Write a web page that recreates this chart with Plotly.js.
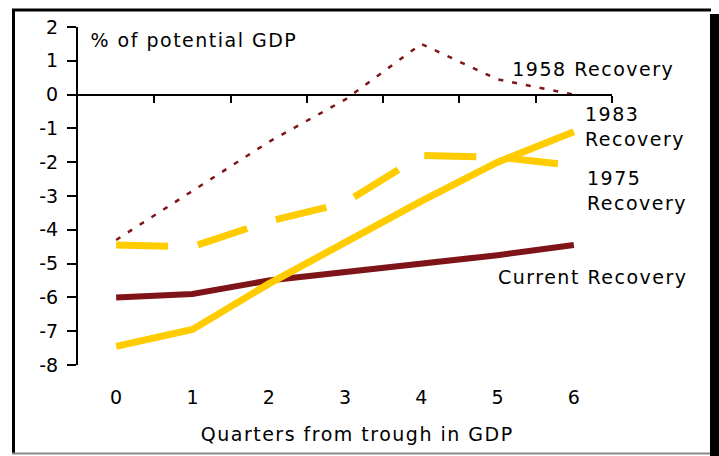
<!DOCTYPE html>
<html>
<head>
<meta charset="utf-8">
<script src="https://cdn.plot.ly/plotly-3.0.1.min.js"></script>
<style>
html,body{margin:0;padding:0;background:#fff;}
#chart{width:719px;height:456px;}
#chart .annotation-text { letter-spacing: 1.5px; }
</style>
</head>
<body>
<div id="chart"></div>
<script>
// Data
var quarters = [0, 1, 2, 3, 4, 5, 6];
var quarterLabels = ["0", "1", "2", "3", "4", "5", "6"];
var current = [-6.0, -5.9, -5.5, -5.25, -5.0, -4.75, -4.45];
var rec1983 = [-7.45, -6.95, -5.6, -4.35, -3.15, -2.0, -1.1];
var rec1975 = [-4.45, -4.5, -3.75, -3.2, -1.8, -1.85, -2.1];
var rec1958 = [-4.3, -2.85, -1.4, -0.15, 1.5, 0.45, 0.0];
var yTickVals = [2, 1, 0, -1, -2, -3, -4, -5, -6, -7, -8];
var yTickText = ["2", "1", "0", "-1", "-2", "-3", "-4", "-5", "-6", "-7", "-8"];
var boundaryTicks = [0.5, 1.5, 2.5, 3.5, 4.5, 5.5, 6.5];

var RED = '#7f1418';
var YEL = '#ffcc00';
var FONT = 'DejaVu Sans, Verdana, sans-serif';

var traces = [
  {x: [], y: [], xaxis: 'x2', yaxis: 'y', mode: 'lines', hoverinfo: 'skip'},
  {x: quarters, y: rec1958, mode: 'lines', line: {color: RED, width: 2.5, dash: '5px,9px'}, name: '1958 Recovery'},
  {x: quarters, y: rec1975, mode: 'lines', line: {color: YEL, width: 7, dash: '52px,30px'}, name: '1975 Recovery'},
  {x: quarters, y: current, mode: 'lines', line: {color: RED, width: 6}, name: 'Current Recovery'},
  {x: quarters, y: rec1983, mode: 'lines', line: {color: YEL, width: 7}, name: '1983 Recovery'}
];

function px2x(p){ return (p - 78) / 534; }
function px2y(p){ return (365 - p) / 338; }

var layout = {
  width: 719, height: 456,
  margin: {l: 78, r: 107, t: 27, b: 91},
  paper_bgcolor: '#fff', plot_bgcolor: '#fff',
  showlegend: false,
  font: {family: FONT, size: 19, color: '#000'},
  xaxis: {
    range: [-0.5, 6.5], showgrid: false, zeroline: false, showline: false,
    tickvals: quarters, ticktext: quarterLabels, ticks: '', ticklabelstandoff: 19,
    tickfont: {size: 19},
    fixedrange: true
  },
  xaxis2: {
    overlaying: 'x', anchor: 'free', position: 0.8, range: [-0.5, 6.5], side: 'bottom',
    showgrid: false, zeroline: false, showline: true, linecolor: '#000', linewidth: 2,
    tickvals: boundaryTicks, ticks: 'outside', ticklen: 7, tickwidth: 2, tickcolor: '#000',
    showticklabels: false
  },
  yaxis: {
    range: [-8, 2], showgrid: false, zeroline: false, showline: true, linecolor: '#000', linewidth: 2,
    tickvals: yTickVals, ticktext: yTickText, ticks: 'outside', ticklen: 9, tickwidth: 2, tickcolor: '#000',
    tickfont: {size: 19}, ticklabelstandoff: 5
  },
  annotations: [
    {x: px2x(357), y: px2y(434), xref: 'paper', yref: 'paper', text: 'Quarters from trough in GDP', showarrow: false, xanchor: 'center', yanchor: 'middle', font: {size: 19}},
    {x: -0.18, y: 1.62, xref: 'x', yref: 'y', text: '% of potential GDP', showarrow: false, xanchor: 'left', yanchor: 'middle', font: {size: 19}},
    {x: 5.29, y: 0.77, xref: 'x', yref: 'y', text: '1958 Recovery', showarrow: false, xanchor: 'left', yanchor: 'middle', font: {size: 19}},
    {x: 6.12, y: -0.95, xref: 'x', yref: 'y', text: '1983<br>Recovery', showarrow: false, xanchor: 'left', yanchor: 'middle', align: 'left', font: {size: 19}},
    {x: 6.14, y: -2.84, xref: 'x', yref: 'y', text: '1975<br>Recovery', showarrow: false, xanchor: 'left', yanchor: 'middle', align: 'left', font: {size: 19}},
    {x: 5.14, y: -5.41, xref: 'x', yref: 'y', text: 'Current Recovery', showarrow: false, xanchor: 'left', yanchor: 'middle', font: {size: 19}}
  ],
  shapes: [
    {type: 'line', xref: 'paper', yref: 'paper', x0: px2x(12), x1: px2x(711), y0: px2y(10), y1: px2y(10), line: {color: '#000', width: 3}},
    {type: 'line', xref: 'paper', yref: 'paper', x0: px2x(13.5), x1: px2x(13.5), y0: px2y(9), y1: px2y(454), line: {color: '#000', width: 3}},
    {type: 'line', xref: 'paper', yref: 'paper', x0: px2x(12), x1: px2x(711), y0: px2y(453.5), y1: px2y(453.5), line: {color: '#888', width: 2}},
    {type: 'rect', xref: 'paper', yref: 'paper', x0: px2x(710), x1: px2x(719), y0: px2y(14), y1: px2y(456), line: {width: 0}, fillcolor: '#000'}
  ]
};

Plotly.newPlot('chart', traces, layout, {staticPlot: true, displayModeBar: false});
</script>
</body>
</html>
